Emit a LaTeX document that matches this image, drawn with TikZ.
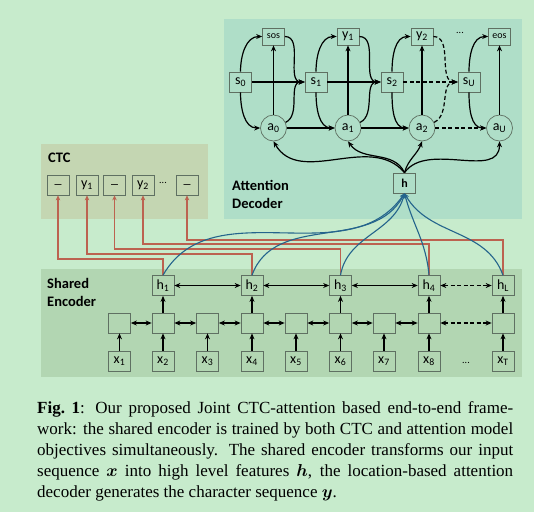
\documentclass[tikz,border=0pt]{standalone}
\usepackage{fontspec}
\usepackage{amsmath}
\usepackage{bm}
\setmainfont{Liberation Serif}
\newfontfamily\calfont{Carlito}
\usetikzlibrary{arrows.meta}

\definecolor{bgc}{RGB}{199,235,204}
\definecolor{attbg}{RGB}{175,222,200}
\definecolor{ctcbg}{RGB}{196,214,178}
\definecolor{encbg}{RGB}{178,214,178}
\definecolor{boxline}{RGB}{95,112,98}
\definecolor{ctcred}{RGB}{188,98,80}
\definecolor{encblue}{RGB}{36,100,140}

\tikzset{
	box/.style={draw=boxline, line width=0.7pt, minimum width=22pt, minimum height=20pt,
		inner sep=0pt, font=\calfont\fontsize{14}{14}\selectfont},
	outbox/.style={box, minimum height=17pt},
	attc/.style={circle, draw=boxline, line width=0.7pt, minimum size=26pt, inner sep=0pt,
		font=\calfont\fontsize{14}{14}\selectfont},
	smalltxt/.style={font=\calfont\fontsize{10}{10}\selectfont, inner sep=0pt},
	paneltxt/.style={font=\calfont\bfseries\fontsize{14.5}{17.7}\selectfont, align=left, inner sep=0pt},
	arr/.style={-{Stealth[length=6pt,width=5pt]}, line width=1.2pt},
	darr/.style={{Stealth[length=6pt,width=5pt]}-{Stealth[length=6pt,width=5pt]}, line width=1.2pt},
	dsh/.style={dash pattern=on 4pt off 2.5pt},
	redarr/.style={-{Stealth[length=5pt,width=4.5pt]}, ctcred, line width=1.1pt},
	bluearr/.style={{Stealth[length=5pt,width=4.5pt]}-, encblue, line width=1.1pt},
}

\begin{document}
\begin{tikzpicture}[x=1pt,y=1pt]
		%%%%% START %%%%%
		\fill[bgc] (0,0) rectangle (534,-512);
		\useasboundingbox (0,0) rectangle (534,-512);
		
		% panels
		\fill[attbg] (224,-19) rectangle (522,-219);
		\fill[ctcbg] (41,-144) rectangle (208,-219);
		\fill[encbg] (41,-269) rectangle (522,-377);
		
		\node[paneltxt, anchor=base west] (attlbl) at (232,-208) {Attention\\Decoder};
		\node[paneltxt, anchor=base west] (ctclbl) at (48,-162) {CTC};
		\node[paneltxt, anchor=base west] (enclbl) at (47,-306) {Shared\\Encoder};
		
		% attention decoder
		\node[outbox, font=\calfont\fontsize{10}{10}\selectfont] (sos) at (273.5,-36.5) {sos};
		\node[outbox] (y1) at (348,-36.5) {y\textsubscript{1}};
		\node[outbox] (y2) at (422,-36.5) {y\textsubscript{2}};
		\node[smalltxt] (ddots) at (460,-33) {...};
		\node[outbox, font=\calfont\fontsize{10}{10}\selectfont] (eos) at (499.5,-36.5) {eos};
		
		\node[box] (s0) at (240.5,-82) {s\textsubscript{0}};
		\node[box] (s1) at (316,-82) {s\textsubscript{1}};
		\node[box] (s2) at (392,-82) {s\textsubscript{2}};
		\node[box] (sU) at (469,-82) {s\textsubscript{U}};
		
		\node[attc] (a0) at (273.5,-128) {a\textsubscript{0}};
		\node[attc] (a1) at (348,-128) {a\textsubscript{1}};
		\node[attc] (a2) at (422,-128) {a\textsubscript{2}};
		\node[attc] (aU) at (499.5,-128) {a\textsubscript{U}};
		
		\node[box, font=\calfont\bfseries\fontsize{12}{12}\selectfont] (hctx) at (404.5,-183) {h};
		
		\draw[arr] (s0.north) to[out=90,in=180] (sos.west);
		\draw[arr] (s0.south) to[out=-90,in=180] (a0.west);
		\draw[arr] (s0) -- (s1);
		\draw[arr] (a0) -- (sos);
		\draw[arr] (sos.east) to[out=0,in=180] (s1.west);
		\draw[arr] (a0.25) to[out=25,in=180] (s1.west);
		\draw[arr] (a0) -- (a1);
		
		\draw[arr] (s1.north) to[out=90,in=180] (y1.west);
		\draw[arr] (s1.south) to[out=-90,in=180] (a1.west);
		\draw[arr] (s1) -- (s2);
		\draw[arr] (a1) -- (y1);
		\draw[arr] (y1.east) to[out=0,in=180] (s2.west);
		\draw[arr] (a1.25) to[out=25,in=180] (s2.west);
		\draw[arr] (a1) -- (a2);
		
		\draw[arr] (s2.north) to[out=90,in=180] (y2.west);
		\draw[arr] (s2.south) to[out=-90,in=180] (a2.west);
		\draw[arr, dsh] (s2) -- (sU);
		\draw[arr] (a2) -- (y2);
		\draw[arr, dsh] (y2.east) to[out=0,in=180] (sU.west);
		\draw[arr, dsh] (a2.25) to[out=25,in=180] (sU.west);
		\draw[arr, dsh] (a2) -- (aU);
		
		\draw[arr] (sU.north) to[out=90,in=180] (eos.west);
		\draw[arr] (sU.south) to[out=-90,in=180] (aU.west);
		\draw[arr] (aU) -- (eos);
		
		\draw[arr] (hctx.north) to[out=130,in=-60] (a0.south);
		\draw[arr] (hctx.north) to[out=115,in=-55] (a1.south);
		\draw[arr] (hctx.north) to[out=75,in=-110] (a2.south);
		\draw[arr] (hctx.north) to[out=55,in=-90] (aU.south);
		
		% CTC
		\node[box] (c1) at (58,-185) {\raisebox{3pt}{\_}};
		\node[box] (c2) at (87,-185) {y\textsubscript{1}};
		\node[box] (c3) at (114.5,-185) {\raisebox{3pt}{\_}};
		\node[box] (c4) at (143,-185) {y\textsubscript{2}};
		\node[smalltxt] (cdots) at (163,-183) {...};
		\node[box] (c5) at (187,-185) {\raisebox{3pt}{\_}};
		
		% shared encoder
		\node[box] (h1) at (163,-285.5) {h\textsubscript{1}};
		\node[box] (h2) at (252,-285.5) {h\textsubscript{2}};
		\node[box] (h3) at (340.5,-285.5) {h\textsubscript{3}};
		\node[box] (h4) at (429,-285.5) {h\textsubscript{4}};
		\node[box] (hL) at (503,-285.5) {h\textsubscript{L}};
		
		\node[box] (b1) at (119.5,-323) {};
		\node[box] (b2) at (163,-323) {};
		\node[box] (b3) at (207.5,-323) {};
		\node[box] (b4) at (252,-323) {};
		\node[box] (b5) at (296,-323) {};
		\node[box] (b6) at (340.5,-323) {};
		\node[box] (b7) at (384,-323) {};
		\node[box] (b8) at (429,-323) {};
		\node[box] (bT) at (503,-323) {};
		
		\node[box] (x1) at (119.5,-361) {x\textsubscript{1}};
		\node[box] (x2) at (163,-361) {x\textsubscript{2}};
		\node[box] (x3) at (207.5,-361) {x\textsubscript{3}};
		\node[box] (x4) at (252,-361) {x\textsubscript{4}};
		\node[box] (x5) at (296,-361) {x\textsubscript{5}};
		\node[box] (x6) at (340.5,-361) {x\textsubscript{6}};
		\node[box] (x7) at (384,-361) {x\textsubscript{7}};
		\node[box] (x8) at (429,-361) {x\textsubscript{8}};
		\node[smalltxt] (xdots) at (466,-363) {...};
		\node[box] (xT) at (503,-361) {x\textsubscript{T}};
		
		\draw[arr] (x1) -- (b1);
		\draw[arr] (x2) -- (b2);
		\draw[arr] (x3) -- (b3);
		\draw[arr] (x4) -- (b4);
		\draw[arr] (x5) -- (b5);
		\draw[arr] (x6) -- (b6);
		\draw[arr] (x7) -- (b7);
		\draw[arr] (x8) -- (b8);
		\draw[arr] (xT) -- (bT);
		
		\draw[darr] (b1) -- (b2);
		\draw[darr] (b2) -- (b3);
		\draw[darr] (b3) -- (b4);
		\draw[darr] (b4) -- (b5);
		\draw[darr] (b5) -- (b6);
		\draw[darr] (b6) -- (b7);
		\draw[darr] (b7) -- (b8);
		\draw[darr, dsh] (b8) -- (bT);
		
		\draw[arr] (b2) -- (h1);
		\draw[arr] (b4) -- (h2);
		\draw[arr] (b6) -- (h3);
		\draw[arr] (b8) -- (h4);
		\draw[arr] (bT) -- (hL);
		
		\draw[darr] (h1) -- (h2);
		\draw[darr] (h2) -- (h3);
		\draw[darr] (h3) -- (h4);
		\draw[darr, dsh] (h4) -- (hL);
		
		% encoder to CTC
		\draw[redarr] (h1.north) -- (h1.north |- 0,-259) -| (c1.south);
		\draw[redarr] (h2.north) -- (h2.north |- 0,-254) -| (c2.south);
		\draw[redarr] (h3.north) -- (h3.north |- 0,-249) -| (c3.south);
		\draw[redarr] (h4.north) -- (h4.north |- 0,-244) -| (c4.south);
		\draw[redarr] (hL.north) -- (hL.north |- 0,-240) -| (c5.south);
		
		% encoder to attention
		\draw[bluearr] (hctx.south) to[out=-125,in=60] (h1.north);
		\draw[bluearr] (hctx.south) to[out=-118,in=70] (h2.north);
		\draw[bluearr] (hctx.south) to[out=-105,in=80] (h3.north);
		\draw[bluearr] (hctx.south) to[out=-75,in=95] (h4.north);
		\draw[bluearr] (hctx.south) to[out=-60,in=110] (hL.north);
		
		% caption
		\node[anchor=base west, inner sep=0pt, text width=476pt, align=justify,
			font=\fontsize{17}{21}\selectfont] (cap) at (37,-413)
			{\textbf{Fig.~1}: Our proposed Joint CTC-attention based end-to-end frame-\linebreak
			work: the shared encoder is trained by both CTC and attention model\linebreak
			objectives simultaneously. The shared encoder transforms our input\linebreak
			sequence $\bm{x}$ into high level features $\bm{h}$, the location-based attention\linebreak
			decoder generates the character sequence $\bm{y}$.};
		%%%%% END %%%%%
\end{tikzpicture}
\end{document}
